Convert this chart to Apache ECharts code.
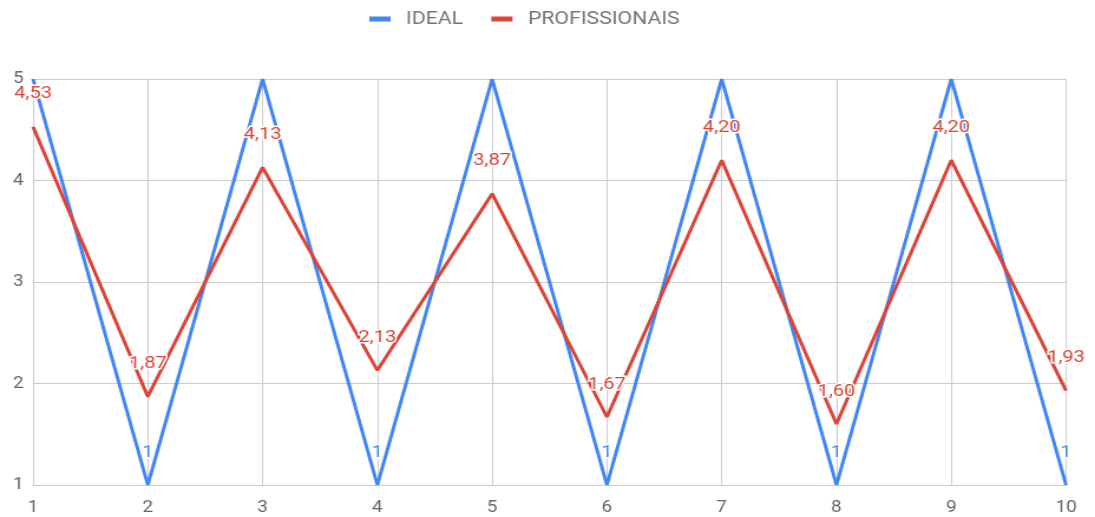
<!DOCTYPE html>
<html>
<head>
<meta charset="utf-8">
<script src="https://cdn.jsdelivr.net/npm/echarts@6/dist/echarts.min.js"></script>
<style>
  html, body { margin: 0; padding: 0; background: #fff; overflow: hidden; }
  /* chart drawn narrower, then widened to fill the 1095px page */
  #chart { width: 928px; height: 517px; transform: scaleX(1.18); transform-origin: 0 0; }
</style>
</head>
<body>
<div id="chart"></div>
<script>
// Question numbers along the horizontal axis
const categories = ['1', '2', '3', '4', '5', '6', '7', '8', '9', '10'];
// Ideal profile, alternating between the extremes of the scale
const idealValues = [5, 1, 5, 1, 5, 1, 5, 1, 5, 1];
// Average answers from the professionals
const profValues = [4.53, 1.87, 4.13, 2.13, 3.87, 1.67, 4.20, 1.60, 4.20, 1.93];
const yTicks = [1, 2, 3, 4, 5];

const fmt = v => v.toFixed(2).replace('.', ',');

const chart = echarts.init(document.getElementById('chart'));
chart.setOption({
  animation: false,
  textStyle: { fontFamily: 'Roboto' },
  legend: {
    top: 5,
    left: 308,
    itemWidth: 18,
    itemHeight: 5,
    itemGap: 24,
    icon: 'rect',
    textStyle: { color: '#757575', fontSize: 18, fontFamily: 'Roboto', padding: [0, 0, 0, 8] },
    data: ['IDEAL', 'PROFISSIONAIS']
  },
  grid: { left: 28, right: 24.6, top: 79, bottom: 32, containLabel: false },
  xAxis: {
    type: 'category',
    data: categories,
    boundaryGap: false,
    axisLine: { show: true, lineStyle: { color: '#ccc' } },
    axisTick: { show: false },
    axisLabel: { color: '#666', fontSize: 16, margin: 15 },
    splitLine: { show: true, lineStyle: { color: '#ccc', width: 1 } }
  },
  yAxis: {
    type: 'value',
    min: yTicks[0],
    max: yTicks[yTicks.length - 1],
    interval: 1,
    axisLine: { show: false },
    axisTick: { show: false },
    axisLabel: { color: '#666', fontSize: 16, margin: 8 },
    splitLine: { lineStyle: { color: '#ccc', width: 1 } }
  },
  series: [
    {
      name: 'IDEAL',
      type: 'line',
      data: idealValues,
      color: '#4285F4',
      symbol: 'circle',
      symbolSize: 0.01,
      showSymbol: true,
      showAllSymbol: true,
      lineStyle: { width: 3 },
      label: {
        show: true,
        position: 'top',
        distance: 24,
        color: '#4285F4',
        fontSize: 17,
        textBorderColor: '#fff',
        textBorderWidth: 3,
        formatter: p => (p.value === 1 ? String(p.value) : '')
      },
      z: 2
    },
    {
      name: 'PROFISSIONAIS',
      type: 'line',
      data: profValues,
      color: '#DB4437',
      symbol: 'circle',
      symbolSize: 0.01,
      showSymbol: true,
      showAllSymbol: true,
      lineStyle: { width: 3 },
      label: {
        show: true,
        position: 'top',
        distance: 24,
        color: '#DB4437',
        fontSize: 17,
        textBorderColor: '#fff',
        textBorderWidth: 3,
        formatter: p => fmt(p.value)
      },
      z: 3
    }
  ]
});
</script>
</body>
</html>
